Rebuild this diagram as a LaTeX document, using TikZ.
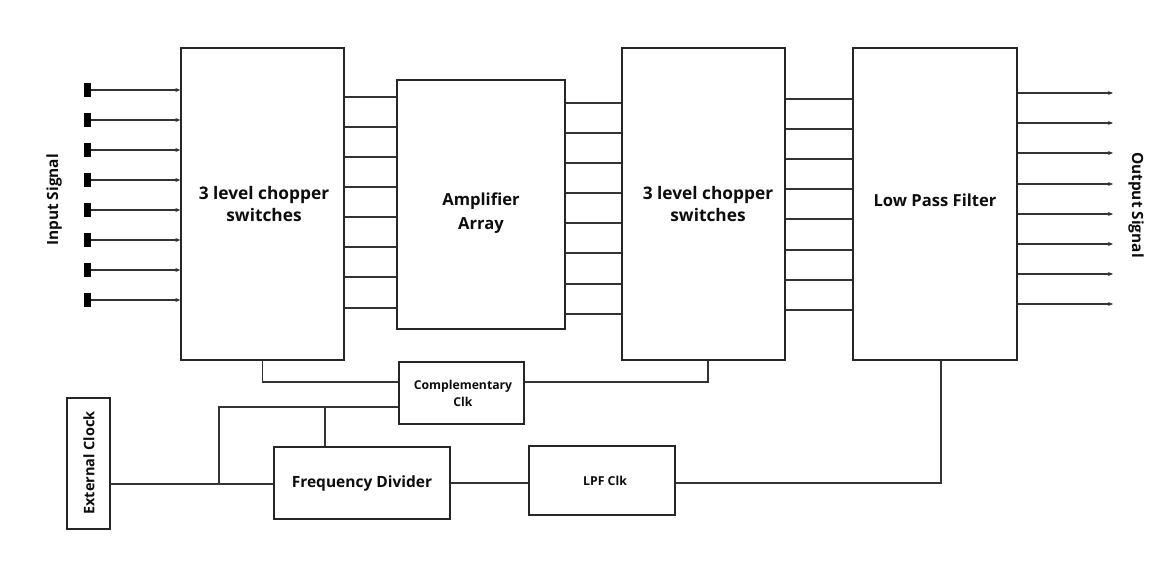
\documentclass[tikz,border=0pt]{standalone}
\usepackage{fontspec}
\setmainfont{Open Sans}
\usetikzlibrary{arrows.meta}
\begin{document}
\begin{tikzpicture}[x=1pt,y=-1pt,
  blk/.style={draw=black!85,line width=1.3pt,fill=white,inner sep=0pt},
  wire/.style={draw=black!80,line width=1.2pt},
  sig/.style={draw=black!80,line width=1.1pt,-{Stealth[length=5pt,width=4pt]}},
  lbl/.style={font=\bfseries,align=center,text=black!95},
  term/.style={fill=black,minimum width=7pt,minimum height=14pt,inner sep=0pt}]
\useasboundingbox[fill=white] (0,0) rectangle (1171,572);
% main blocks
\node[blk,minimum width=163pt,minimum height=312pt] (ch1) at (262.5,204) {};
\node[blk,minimum width=168pt,minimum height=249pt] (amp) at (481,204.5) {};
\node[blk,minimum width=163pt,minimum height=312pt] (ch2) at (703.5,204) {};
\node[blk,minimum width=164pt,minimum height=312pt] (lpf) at (935,204) {};
\node[blk,minimum width=125pt,minimum height=62pt] (cclk) at (461.5,393) {};
\node[blk,minimum width=43pt,minimum height=131pt] (ext) at (88.5,463.5) {};
\node[blk,minimum width=176pt,minimum height=72pt] (fdiv) at (362,483) {};
\node[blk,minimum width=146pt,minimum height=69pt] (lclk) at (602,480.5) {};
% labels
\node[lbl,font=\fontsize{17.3}{22}\selectfont\bfseries] (t1) at (264,204) {3 level chopper\\switches};
\node[lbl,font=\fontsize{16.6}{24}\selectfont\bfseries] (t2) at (481,213) {Amplifier\\Array};
\node[lbl,font=\fontsize{17.3}{22}\selectfont\bfseries] (t3) at (708,204) {3 level chopper\\switches};
\node[lbl,font=\fontsize{16.6}{21}\selectfont\bfseries] (t4) at (935,200) {Low Pass Filter};
\node[lbl,font=\fontsize{12.2}{17}\selectfont\bfseries] (t5) at (463,393) {Complementary\\Clk};
\node[lbl,font=\fontsize{15.5}{20}\selectfont\bfseries] (t6) at (362,483) {Frequency Divider};
\node[lbl,font=\fontsize{12.3}{15}\selectfont\bfseries] (t7) at (605,481) {LPF Clk};
\node[lbl,font=\fontsize{14.5}{18}\selectfont\bfseries,rotate=90] (t8) at (89,463) {External Clock};
\node[lbl,font=\fontsize{15.4}{18}\selectfont\bfseries,rotate=90] (t9) at (54,200) {Input Signal};
\node[lbl,font=\fontsize{15.4}{18}\selectfont\bfseries,rotate=-90] (t10) at (1136,205) {Output Signal};
% input terminals and arrows
\foreach \i/\y in {1/90,2/120,3/150,4/180,5/210,6/240,7/270,8/300}{
  \node[term] (in\i) at (87.5,\y) {};
  \coordinate (ia\i) at (ch1.west |- 0,\y);
  \draw[sig] (in\i.east) -- (ia\i);
}
% chopper1 -> amplifier
\foreach \y in {97,127,157,187,217,247,277,308}{
  \draw[wire] (ch1.east |- 0,\y) -- (amp.west |- 0,\y);
}
% amplifier -> chopper2
\foreach \y in {103,133,163,193,223,253,284,314}{
  \draw[wire] (amp.east |- 0,\y) -- (ch2.west |- 0,\y);
}
% chopper2 -> LPF
\foreach \y in {99,129,159,189,219,250,280,310}{
  \draw[wire] (ch2.east |- 0,\y) -- (lpf.west |- 0,\y);
}
% outputs
\foreach \i/\y in {1/93,2/123,3/153,4/184,5/214,6/244,7/274,8/304}{
  \coordinate (out\i) at (1113,\y);
  \draw[sig] (lpf.east |- 0,\y) -- (out\i);
}
% clock wiring
\coordinate (j1) at (219,484);
\coordinate (j2) at (325,407);
\draw[wire] (ch1.south) |- (cclk.west |- 0,382);
\draw[wire] (cclk.east |- 0,382) -| (ch2.south -| 708,0);
\draw[wire] (ext.east |- 0,484) -- (fdiv.west |- 0,484);
\draw[wire] (cclk.west |- 0,407) -| (j1);
\draw[wire] (j2) -- (fdiv.north -| j2);
\draw[wire] (fdiv.east |- 0,483) -- (lclk.west |- 0,483);
\draw[wire] (lclk.east |- 0,483) -| (lpf.south -| 941,0);
\end{tikzpicture}
\end{document}
